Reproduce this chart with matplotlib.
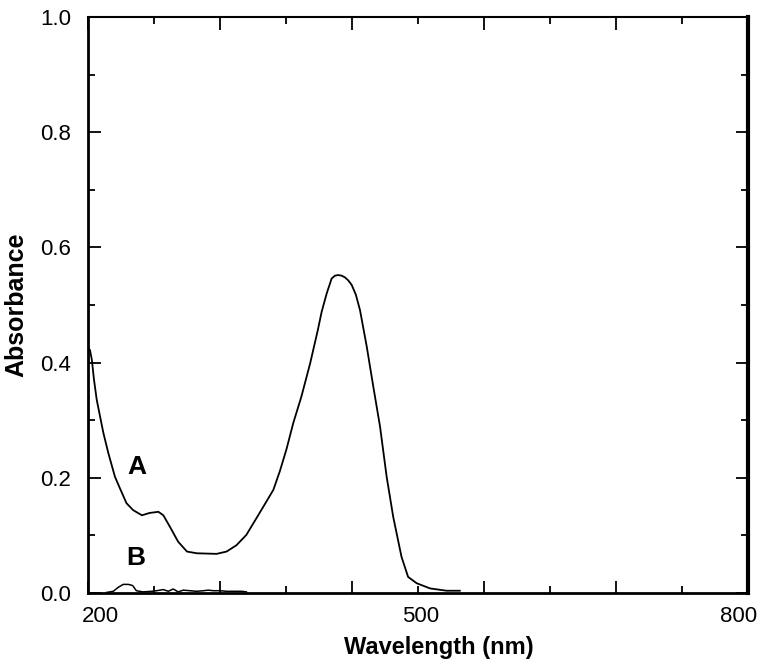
import matplotlib.pyplot as plt
import matplotlib.transforms as mtransforms

plt.rcParams['font.family'] = ['Liberation Sans', 'DejaVu Sans']

# spectrum A
wl_a = [200, 201.8, 203.5, 205.5, 208, 214, 218.5, 224.5, 229, 235, 241, 249, 256, 264, 268.5,
        274.5, 282, 290, 299, 317, 326, 335, 344, 356, 368.5, 374.5, 380.5, 386.6, 394, 402,
        409, 412.4, 417, 421.5, 424.5, 427.5, 430.5, 433.6, 436.5, 439.7, 443.5, 447.3, 453.4,
        459.4, 465.5, 471.5, 477.5, 485, 491, 498.8, 511, 526, 538]
abs_a = [0.425, 0.422, 0.405, 0.370, 0.335, 0.278, 0.243, 0.202, 0.182, 0.156, 0.144, 0.135,
         0.139, 0.141, 0.135, 0.115, 0.089, 0.072, 0.069, 0.068, 0.072, 0.083, 0.101, 0.139,
         0.179, 0.212, 0.250, 0.295, 0.341, 0.399, 0.457, 0.488, 0.520, 0.546, 0.551, 0.552,
         0.551, 0.548, 0.543, 0.535, 0.518, 0.491, 0.428, 0.358, 0.289, 0.202, 0.132, 0.063,
         0.028, 0.017, 0.008, 0.004, 0.004]

# spectrum B
wl_b = [217, 223, 227.6, 232, 236.7, 240.6, 244, 250, 258, 262.4, 268.5, 273, 277.5, 282,
        286.6, 292.7, 298.8, 304.8, 309.4, 313.9, 320, 326, 332, 339.7, 344]
abs_b = [0.001, 0.003, 0.010, 0.015, 0.015, 0.013, 0.004, 0.002, 0.003, 0.004, 0.006, 0.003,
         0.007, 0.002, 0.005, 0.004, 0.003, 0.004, 0.005, 0.004, 0.004, 0.003, 0.003, 0.003, 0.002]

long_ticks = [200, 320, 440, 560, 680, 800]
short_ticks = [260, 380, 500, 620, 740]
xlabels = ['200', '500', '800']
xlabel_pos = [211, 502, 791]

fig = plt.figure(figsize=(7.69, 6.67), dpi=100)
ax = fig.add_axes([0.1144, 0.1109, 0.8583, 0.8636])

ax.plot(wl_a, abs_a, color='black', lw=1.3)
ax.plot(wl_b, abs_b, color='black', lw=1.1)

ax.text(244, 0.219, 'A', fontsize=19, fontweight='bold', ha='center', va='center')
ax.text(243.5, 0.061, 'B', fontsize=19, fontweight='bold', ha='center', va='center')

ax.set_xlim(200, 800)
ax.set_ylim(0, 1.0)

ax.set_xticks(long_ticks, labels=[])
ax.set_xticks(short_ticks, minor=True)
ax.set_yticks([0, 0.2, 0.4, 0.6, 0.8, 1.0], labels=['0.0', '0.2', '0.4', '0.6', '0.8', '1.0'])
ax.set_yticks([0.1, 0.3, 0.5, 0.7, 0.9], minor=True)

ax.tick_params(which='both', direction='in', top=True, right=True, width=1.3, colors='black')
ax.tick_params(which='major', length=9)
ax.tick_params(which='minor', length=5)
ax.tick_params(axis='y', labelsize=16, pad=12)

trans = mtransforms.blended_transform_factory(ax.transData, ax.transAxes)
for pos, lab in zip(xlabel_pos, xlabels):
    ax.text(pos, -0.022, lab, transform=trans, fontsize=16, ha='center', va='top')

for side, w in [('left', 2.0), ('bottom', 2.0), ('top', 1.5), ('right', 3.0)]:
    ax.spines[side].set_linewidth(w)

ax.set_xlabel('Wavelength (nm)', fontsize=17, fontweight='bold')
ax.xaxis.set_label_coords(0.531, -0.075)
ax.set_ylabel('Absorbance', fontsize=18, fontweight='bold')
ax.yaxis.set_label_coords(-0.09, 0.5)

fig.savefig('out.png', dpi=100)
